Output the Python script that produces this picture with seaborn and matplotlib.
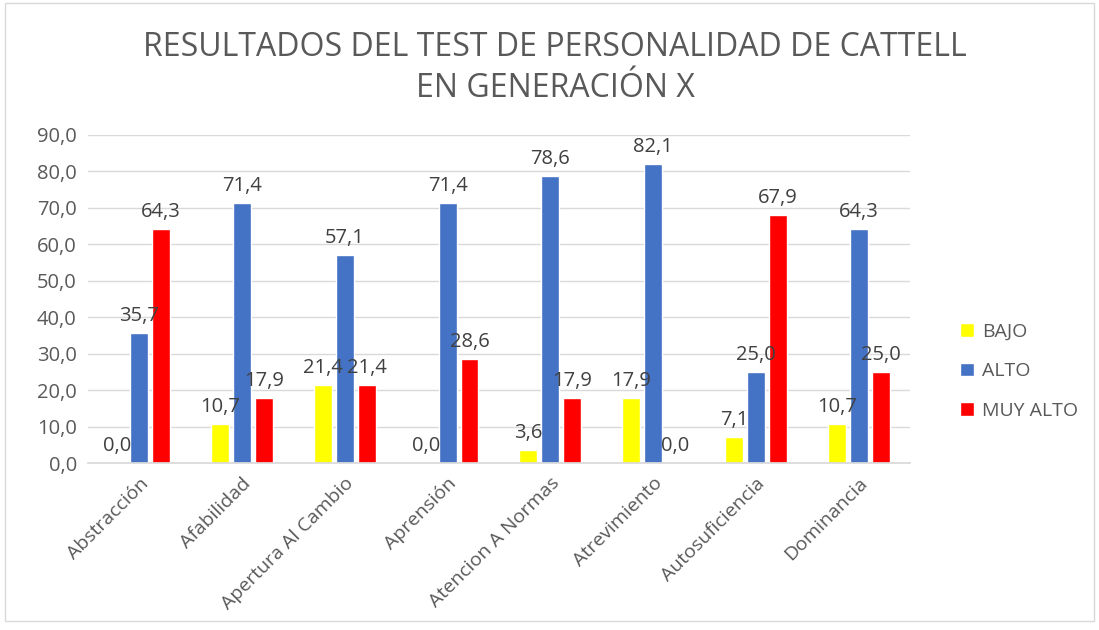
import matplotlib
matplotlib.use("Agg")
import matplotlib.pyplot as plt
import pandas as pd
import seaborn as sns
from matplotlib.patches import Rectangle

categories = ["Abstracción", "Afabilidad", "Apertura Al Cambio", "Aprensión",
              "Atencion A Normas", "Atrevimiento", "Autosuficiencia", "Dominancia"]
bajo = [0.0, 10.7, 21.4, 0.0, 3.6, 17.9, 7.1, 10.7]
alto = [35.7, 71.4, 57.1, 71.4, 78.6, 82.1, 25.0, 64.3]
muy_alto = [64.3, 17.9, 21.4, 28.6, 17.9, 0.0, 67.9, 25.0]
series = ["BAJO", "ALTO", "MUY ALTO"]
colors = ["#FFFF00", "#4472C4", "#FF0000"]

df = pd.DataFrame({"categoria": categories * 3,
                   "nivel": [s for s in series for _ in categories],
                   "valor": bajo + alto + muy_alto})

sns.set_theme(style="white")
plt.rcParams["font.family"] = ["Open Sans", "DejaVu Sans"]

fig = plt.figure(figsize=(10.99, 6.3), dpi=100)
ax = fig.add_axes([0.080, 0.265, 0.748, 0.521])

sns.barplot(data=df, x="categoria", y="valor", hue="nivel", hue_order=series,
            palette=colors, width=0.64, gap=0.18, errorbar=None, ax=ax,
            saturation=1)

for cont in ax.containers:
    ax.bar_label(cont, labels=[f"{v:.1f}".replace(".", ",") for v in cont.datavalues],
                 padding=5, fontsize=14.5, color="#404040")

ax.set_ylim(0, 90)
ax.set_yticks(range(0, 91, 10))
ax.set_yticklabels([f"{v:.1f}".replace(".", ",") for v in range(0, 91, 10)],
                   fontsize=14.5, color="#595959")
ax.set_xlim(-0.5, len(categories) - 0.5)
ax.set_xticks(range(len(categories)))
ax.set_xticklabels(categories, rotation=45, ha="right", rotation_mode="anchor",
                   fontsize=14, color="#595959")
ax.tick_params(axis="both", length=0, pad=8)
ax.yaxis.grid(True, color="#D9D9D9", linewidth=1)
ax.set_axisbelow(True)
for s in ["top", "right", "left"]:
    ax.spines[s].set_visible(False)
ax.spines["bottom"].set_color("#D9D9D9")
ax.set_xlabel("")
ax.set_ylabel("")

ax.legend(loc="center left", bbox_to_anchor=(1.04, 0.28), frameon=False,
          fontsize=14, labelcolor="#595959", handlelength=0.7, handleheight=0.7,
          labelspacing=1.1, handletextpad=0.4)

fig.text(0.505, 0.892, "RESULTADOS DEL TEST DE PERSONALIDAD DE CATTELL\nEN GENERACIÓN X",
         ha="center", va="center", fontsize=23, color="#595959", linespacing=1.3)

fig.patches.append(Rectangle((0.005, 0.015), 0.99, 0.98, transform=fig.transFigure,
                             fill=False, edgecolor="#D9D9D9", linewidth=1))

fig.savefig("out.png", dpi=100)
